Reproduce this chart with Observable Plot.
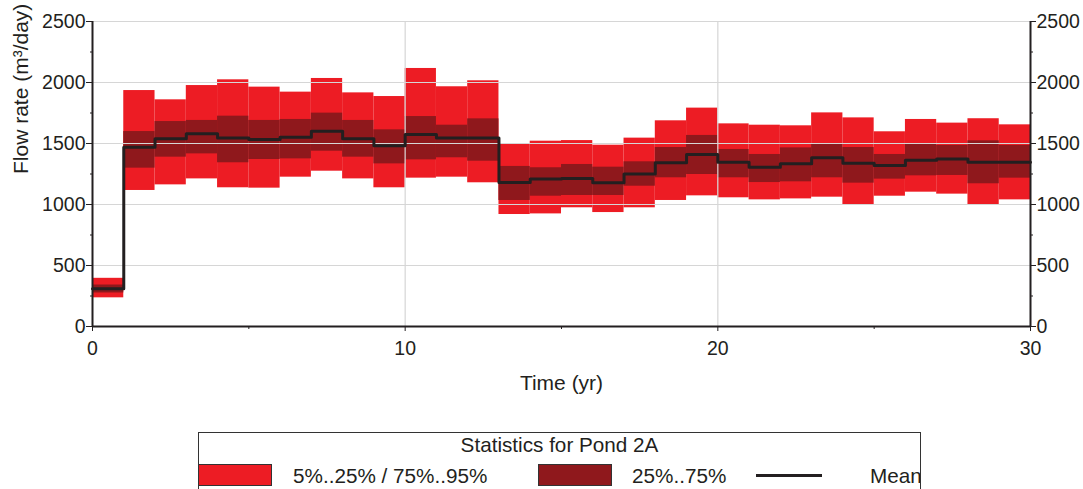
<!DOCTYPE html>
<html>
<head>
<meta charset="utf-8">
<script src="https://cdn.jsdelivr.net/npm/d3@7"></script>
<script src="https://cdn.jsdelivr.net/npm/@observablehq/plot@0.6"></script>
<style>
  html, body { margin: 0; padding: 0; background: #fff; width: 1083px; height: 489px; overflow: hidden; }
  #chart { position: absolute; left: 0; top: 0; }
  #legend { position: absolute; left: 198px; top: 432px; width: 723px; height: 90px; border: 1px solid #333; box-sizing: border-box; overflow: hidden;
    font-family: "Liberation Sans", Arial, sans-serif; font-size: 20.7px; color: #231F20; }
  #legend .title { position: absolute; left: 0; right: 0; top: 1px; text-align: center; line-height: 21px; }
  #legend .sw { position: absolute; top: 31px; height: 22px; width: 74px; box-sizing: border-box; border: 1px solid #333; }
  #legend .lbl { position: absolute; top: 32px; line-height: 21px; white-space: nowrap; }
  #legend .ln { position: absolute; top: 41px; height: 3px; width: 66px; background: #231F20; }
</style>
</head>
<body>
<div id="chart"></div>
<div id="legend"></div>
<script>
// Year start of each interval (time step, yr)
const years = [0,1,2,3,4,5,6,7,8,9,10,11,12,13,14,15,16,17,18,19,20,21,22,23,24,25,26,27,28,29];
const p5   = [235,1115,1161,1210,1137,1134,1224,1273,1210,1137,1216,1224,1178,918,923,973,934,973,1033,1071,1055,1038,1046,1060,992,1068,1101,1085,992,1038];
const p25  = [275,1298,1388,1415,1342,1369,1374,1437,1388,1333,1366,1383,1355,1033,1068,1074,1074,1150,1219,1246,1219,1180,1186,1219,1175,1208,1235,1238,1170,1216];
const mean = [310,1470,1538,1579,1546,1533,1552,1601,1538,1481,1574,1546,1546,1180,1208,1213,1178,1249,1342,1410,1347,1306,1333,1383,1339,1320,1363,1372,1347,1347];
const p75  = [340,1598,1680,1689,1724,1689,1697,1749,1689,1612,1721,1650,1702,1312,1301,1328,1306,1350,1467,1566,1451,1410,1464,1497,1467,1410,1494,1484,1522,1484];
const p95  = [395,1934,1858,1975,2022,1962,1921,2033,1915,1885,2115,1965,2014,1497,1519,1524,1486,1544,1686,1790,1661,1650,1645,1751,1710,1596,1697,1667,1703,1653];

const xTicks = [0,10,20,30];
const xMinor = [5,15,25];
const yTicks = [0,500,1000,1500,2000,2500];
const yMinor = [250,750,1250,1750,2250];
const legendTitle = "Statistics for Pond 2A";
const legendLabels = ["5%..25% / 75%..95%", "25%..75%", "Mean"];

const lightRed = "#ED1C24";
const darkRed = "#8F181C";
const ink = "#231F20";

const data = years.map((t, i) => ({t, t2: t + 1, p5: p5[i], p25: p25[i], mean: mean[i], p75: p75[i], p95: p95[i]}));
const endT = years[years.length - 1] + 1;
const lineData = data.map(d => ({t: d.t, v: d.mean})).concat([{t: endT, v: mean[mean.length - 1]}]);
const fmt = d => String(d);

const chart = Plot.plot({
  width: 1083,
  height: 400,
  marginLeft: 92,
  marginRight: 53,
  marginTop: 21,
  marginBottom: 74,
  x: {domain: [0, 30]},
  y: {domain: [0, 2500]},
  style: {fontFamily: "'Liberation Sans', Arial, sans-serif", fontSize: "19.5px", color: ink, background: "white"},
  marks: [
    Plot.rect(data, {x1: "t", x2: "t2", y1: "p5", y2: "p95", fill: lightRed}),
    Plot.rect(data, {x1: "t", x2: "t2", y1: "p25", y2: "p75", fill: darkRed}),
    Plot.gridY([500,1000,1500,2000,2500], {stroke: "#d6d6d6", strokeOpacity: 1, strokeWidth: 1.2}),
    Plot.gridX([10,20], {stroke: "#d6d6d6", strokeOpacity: 1, strokeWidth: 1.2}),
    Plot.line(lineData, {x: "t", y: "v", curve: "step-after", stroke: ink, strokeWidth: 3}),
    Plot.ruleX([0, 30], {stroke: ink, strokeWidth: 2}),
    Plot.ruleY([0], {stroke: ink, strokeWidth: 2}),
    Plot.axisY(yTicks, {anchor: "left", tickSize: 6, tickPadding: 1, tickFormat: fmt, label: null}),
    Plot.axisY(yMinor, {anchor: "left", tickSize: 2, tickFormat: () => "", label: null}),
    Plot.axisY(yTicks, {anchor: "right", tickSize: 5, tickPadding: 1, tickFormat: fmt, label: null}),
    Plot.axisY(yMinor, {anchor: "right", tickSize: 2, tickFormat: () => "", label: null}),
    Plot.axisX(xTicks, {anchor: "bottom", tickSize: 5, tickPadding: 10, tickFormat: fmt, label: null}),
    Plot.axisX(xMinor, {anchor: "bottom", tickSize: 3, tickFormat: () => "", label: null}),
    Plot.text(["Time (yr)"], {frameAnchor: "bottom", dy: 57, lineAnchor: "middle", fontSize: 21, fill: ink}),
    Plot.text(["Flow rate (m³/day)"], {frameAnchor: "left", dx: -71, rotate: -90, lineAnchor: "middle", fontSize: 21, fill: ink})
  ]
});
document.getElementById("chart").appendChild(chart);

const lg = document.getElementById("legend");
lg.innerHTML = `
  <div class="title">${legendTitle}</div>
  <div class="sw" style="left:-1px;background:${lightRed}"></div>
  <div class="lbl" style="left:94px">${legendLabels[0]}</div>
  <div class="sw" style="left:339px;background:${darkRed}"></div>
  <div class="lbl" style="left:433px">${legendLabels[1]}</div>
  <div class="ln" style="left:557px"></div>
  <div class="lbl" style="left:671px">${legendLabels[2]}</div>
`;
</script>
</body>
</html>
